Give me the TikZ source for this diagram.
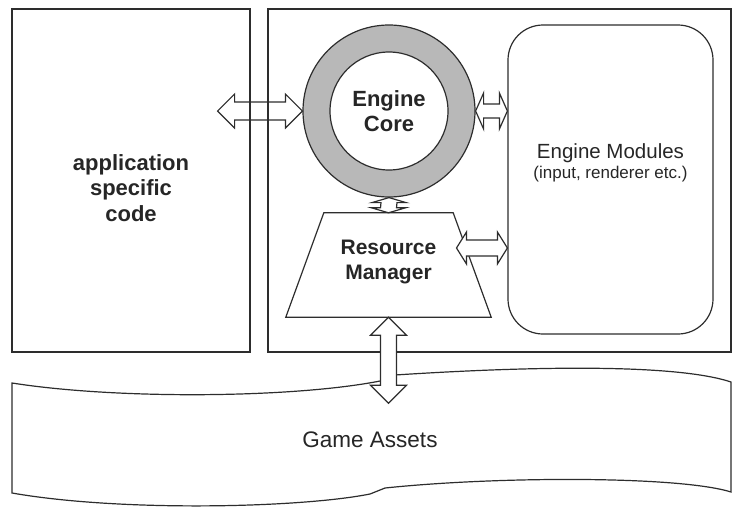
\documentclass[tikz,border=0pt]{standalone}
\usepackage{fontspec}
\setmainfont{Liberation Sans}
\usetikzlibrary{calc}

\definecolor{ringgray}{RGB}{184,184,184}
\definecolor{edge}{RGB}{45,45,45}

\tikzset{
  box/.style={draw=edge, line width=1.2pt, inner sep=0pt},
  fatarrow/.style={draw=edge, line width=1.2pt, fill=white, line join=miter},
  lbl/.style={font=\fontsize{22}{25.5}\selectfont\bfseries, align=center, text=black!85},
}

% block double arrows: [opts] from, to, head length, head half width, shaft half width
\newcommand{\hfat}[6][]{\draw[fatarrow,#1] (#2) -- ++(#4,#5) -- ++(0,#6-#5) -- ($(#3)+(-#4,#6)$) -- ++(0,#5-#6) -- (#3) -- ++(-#4,-#5) -- ++(0,#5-#6) -- ($(#2)+(#4,-#6)$) -- ++(0,#6-#5) -- cycle;}
\newcommand{\vfat}[6][]{\draw[fatarrow,#1] (#2) -- ++(#5,#4) -- ++(#6-#5,0) -- ($(#3)+(#6,-#4)$) -- ++(#5-#6,0) -- (#3) -- ++(-#5,-#4) -- ++(#5-#6,0) -- ($(#2)+(-#6,#4)$) -- ++(#6-#5,0) -- cycle;}

\begin{document}
\begin{tikzpicture}[x=1pt, y=-1pt]
  \useasboundingbox (0,0) rectangle (740,528);

  \draw[fatarrow] (12,383) .. controls (120,400) and (300,398) .. (385,380) -- (395,375)
    .. controls (550,365) and (680,365) .. (731,382) -- (731,492)
    .. controls (680,476) and (500,476) .. (385,488) -- (370,494)
    .. controls (300,508) and (120,512) .. (12,493) -- cycle;
  \node[font=\fontsize{22.5}{25}\selectfont, text=black!85] (assets) at (370,440) {Game Assets};

  \node[box, minimum width=238pt, minimum height=343pt] (app) at (131,180.5) {};
  \node[lbl] (apptxt) at (131,188) {application\\specific\\code};
  \node[box, minimum width=463pt, minimum height=343pt] (eng) at (499.5,180.5) {};

  \node[box, circle, fill=ringgray, minimum size=172pt] (ring) at (389,111) {};
  \node[box, circle, fill=white, minimum size=118pt, lbl] (core) at (ring.center) {Engine\\Core};

  \node[inner sep=0pt, minimum width=205pt, minimum height=104pt] (res) at (388.5,265) {};
  \draw[box] (res.south west) -- (res.south east) -- ([xshift=-38pt]res.north east)
    -- ([xshift=38pt]res.north west) -- cycle;
  \node[lbl, font=\fontsize{21}{25}\selectfont\bfseries] (restxt) at (388.5,262) {Resource\\Manager};

  \node[box, rounded corners=35pt, minimum width=205pt, minimum height=309pt] (mods) at (610.5,179.5) {};
  \node[align=center, font=\fontsize{20.5}{20}\selectfont, text=black!85] (modtxt) at (610.5,163)
    {Engine Modules\\{\fontsize{17}{20}\selectfont (input, renderer etc.)}};

  \coordinate (appport) at ([xshift=-33pt]app.east |- ring.west);
  \coordinate (resport) at ($(res.center)+(68,-17)$);
  \coordinate (assettop) at ($(res.south)+(0,86)$);

  \hfat[fill=none]{appport}{ring.west}{17}{17}{9}
  \hfat{ring.east}{mods.west |- ring.east}{8}{18}{7}
  \vfat{ring.south}{res.north}{5}{17}{8}
  \hfat{resport}{mods.west |- resport}{10}{16}{8}
  \vfat{res.south}{assettop}{18}{18}{8}
\end{tikzpicture}
\end{document}
